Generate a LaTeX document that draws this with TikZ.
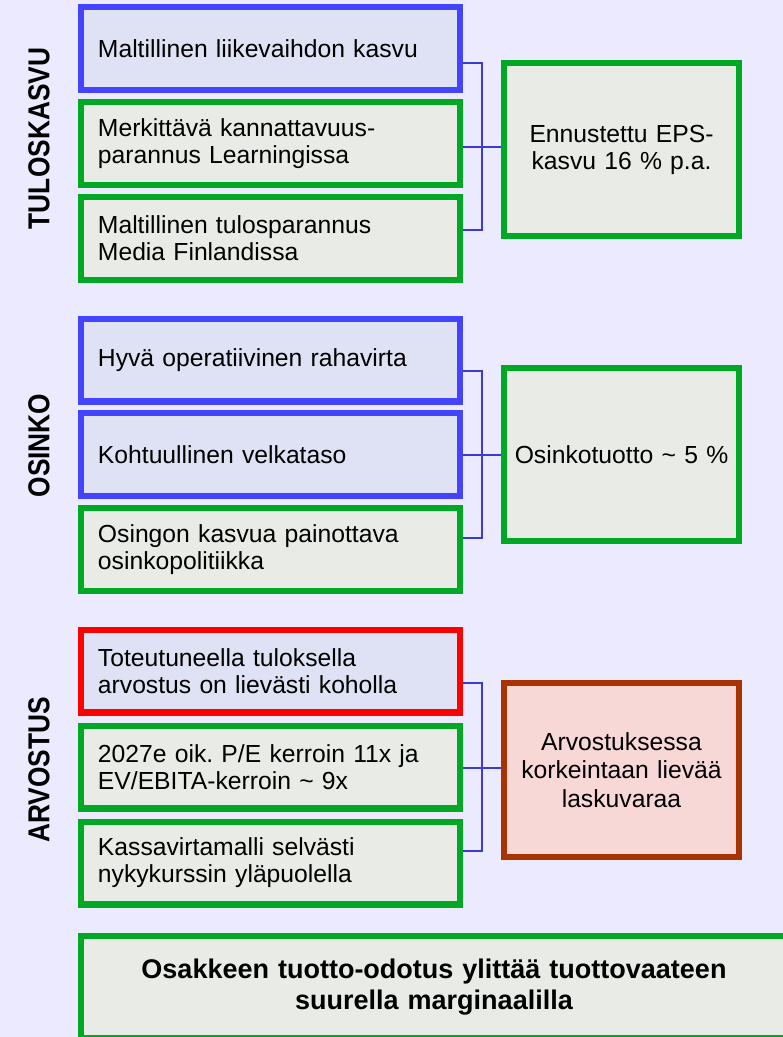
\documentclass[tikz,border=0pt]{standalone}
\usepackage{fontspec}
\setmainfont{Liberation Sans}
\usetikzlibrary{calc}
\definecolor{bg}{HTML}{EBEAFE}
\definecolor{fillA}{HTML}{DFE2F4}
\definecolor{fillG}{HTML}{E9ECE6}
\definecolor{fillR}{HTML}{F8D7D7}
\definecolor{bordG}{HTML}{00A824}
\definecolor{bordB}{HTML}{4444FF}
\definecolor{bordR}{HTML}{FF0000}
\definecolor{bordBr}{HTML}{A83300}
\definecolor{brk}{HTML}{3B3BD4}
\frenchspacing
\begin{document}
\begin{tikzpicture}[x=1pt,y=-1pt,
  box/.style={draw, line width=6.3pt, minimum width=378.7pt, minimum height=82.7pt,
    inner xsep=16.8pt, inner ysep=0pt, text width=345.1pt, align=left,
    font=\fontsize{24.7}{27}\selectfont},
  bluebox/.style={box, draw=bordB, fill=fillA},
  greenbox/.style={box, draw=bordG, fill=fillG},
  redbox/.style={box, draw=bordR, fill=fillA},
  resbox/.style={draw, line width=6.3pt, minimum width=234.7pt, minimum height=172.7pt,
    inner sep=0pt, text width=215pt, align=center, font=\fontsize{24.7}{27}\selectfont},
  lab/.style={rotate=90, inner sep=0pt, font=\fontsize{26.3}{28}\selectfont\bfseries},
  bracket/.style={draw=brk, line width=2.2pt}
]
\fill[bg] (0,0) rectangle (783,1037);
\useasboundingbox (0,0) rectangle (783,1037);

% labels
\node[lab] (L1) at (39,138.5) {\scalebox{1}[1.15]{TULOSKASVU}};
\node[lab] (L2) at (39,445.5) {\scalebox{1}[1.15]{OSINKO}};
\node[lab] (L3) at (39,770) {\scalebox{1}[1.15]{ARVOSTUS}};

% section 1
\node[bluebox] (b11) at (270.5,48.5) {Maltillinen liikevaihdon kasvu};
\node[greenbox] (b12) at (270.5,143.5) {Merkittävä kannattavuus-\\parannus Learningissa};
\node[greenbox] (b13) at (270.5,238.5) {Maltillinen tulosparannus\\Media Finlandissa};
\node[resbox, draw=bordG, fill=fillG] (r1) at (621.5,149.5) {Ennustettu EPS-\\kasvu 16 \% p.a.};

% section 2
\node[bluebox] (b21) at (270.5,360) {Hyvä operatiivinen rahavirta};
\node[bluebox] (b22) at (270.5,454.5) {Kohtuullinen velkataso};
\node[greenbox] (b23) at (270.5,549.5) {Osingon kasvua painottava\\osinkopolitiikka};
\node[resbox, draw=bordG, fill=fillG] (r2) at (621.5,454.5) {Osinkotuotto \textasciitilde{} 5 \%};

% section 3
\node[redbox] (b31) at (270.5,671) {Toteutuneella tuloksella\\arvostus on lievästi koholla};
\node[greenbox] (b32) at (270.5,767) {2027e oik. P/E kerroin 11x ja\\EV/EBITA-kerroin \textasciitilde{} 9x};
\node[greenbox] (b33) at (270.5,863) {Kassavirtamalli selvästi\\nykykurssin yläpuolella};
\node[resbox, draw=bordBr, fill=fillR, minimum height=173.7pt,
  font=\fontsize{24.7}{28.5}\selectfont] (r3) at (621.5,770) {Arvostuksessa\\korkeintaan lievää\\laskuvaraa};

% bottom
\node[draw=bordG, fill=fillG, line width=6.3pt, minimum width=705.7pt, minimum height=102.2pt,
  inner sep=0pt, text width=690pt, align=center,
  font=\fontsize{27}{30.5}\selectfont\bfseries] (bot) at (434,987.2)
  {Osakkeen tuotto-odotus ylittää tuottovaateen\\suurella marginaalilla};

% bracket coordinates
\coordinate (t1) at (482,63);  \coordinate (m1) at (482,147); \coordinate (u1) at (482,230);
\coordinate (t2) at (482,371); \coordinate (m2) at (482,455); \coordinate (u2) at (482,538);
\coordinate (t3) at (482,683); \coordinate (m3) at (482,768); \coordinate (u3) at (482,851);

\draw[bracket] (b11.east |- t1) -- (t1) -- (u1) -- (b13.east |- u1);
\draw[bracket] (b12.east |- m1) -- (r1.west |- m1);
\draw[bracket] (b21.east |- t2) -- (t2) -- (u2) -- (b23.east |- u2);
\draw[bracket] (b22.east |- m2) -- (r2.west |- m2);
\draw[bracket] (b31.east |- t3) -- (t3) -- (u3) -- (b33.east |- u3);
\draw[bracket] (b32.east |- m3) -- (r3.west |- m3);
\end{tikzpicture}
\end{document}
